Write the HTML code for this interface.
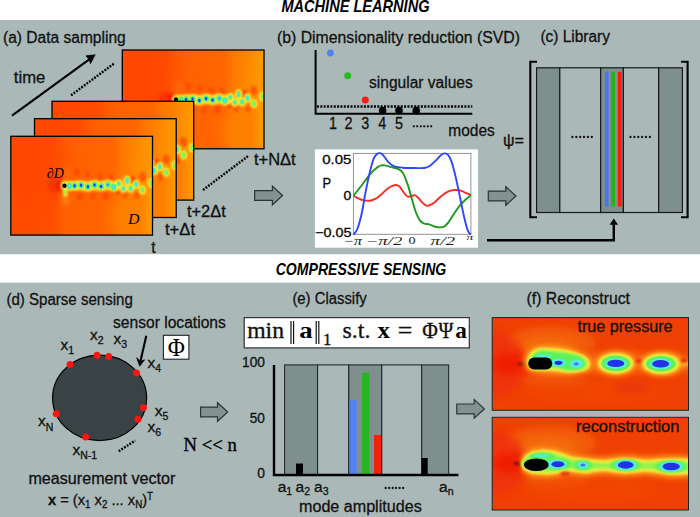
<!DOCTYPE html>
<html><head><meta charset="utf-8"><title>Figure</title>
<style>html,body{margin:0;padding:0;background:#fff;}svg{display:block;}</style></head>
<body><svg width="700" height="517" viewBox="0 0 700 517">
<defs>
<filter id="b1" x="-30%" y="-30%" width="160%" height="160%"><feGaussianBlur stdDeviation="1"/></filter>
<filter id="b2" x="-30%" y="-30%" width="160%" height="160%"><feGaussianBlur stdDeviation="2"/></filter>
<filter id="b3" x="-30%" y="-30%" width="160%" height="160%"><feGaussianBlur stdDeviation="3.5"/></filter>
<filter id="b6" x="-50%" y="-50%" width="200%" height="200%"><feGaussianBlur stdDeviation="7"/></filter>
<filter id="w1" filterUnits="userSpaceOnUse" x="-10" y="-10" width="220" height="120"><feGaussianBlur stdDeviation="1"/></filter>
<filter id="w05" filterUnits="userSpaceOnUse" x="-10" y="-10" width="220" height="120"><feGaussianBlur stdDeviation="0.6"/></filter>
<filter id="w2" filterUnits="userSpaceOnUse" x="-10" y="-10" width="220" height="120"><feGaussianBlur stdDeviation="2"/></filter>
<filter id="w3" filterUnits="userSpaceOnUse" x="-10" y="-10" width="220" height="120"><feGaussianBlur stdDeviation="3.5"/></filter>
<filter id="w03" filterUnits="userSpaceOnUse" x="-10" y="-10" width="220" height="120"><feGaussianBlur stdDeviation="0.35"/></filter>
<filter id="b05" x="-30%" y="-30%" width="160%" height="160%"><feGaussianBlur stdDeviation="0.6"/></filter>
<linearGradient id="og" x1="0" x2="1" y1="0" y2="0">
<stop offset="0" stop-color="#ff4a00"/><stop offset="0.29" stop-color="#ff4e00"/><stop offset="0.38" stop-color="#ff6000"/><stop offset="0.72" stop-color="#ff6600"/><stop offset="0.79" stop-color="#ff7a00"/><stop offset="0.91" stop-color="#ff8000"/><stop offset="0.97" stop-color="#ff9400"/><stop offset="1" stop-color="#ff9a00"/>
</linearGradient>
<clipPath id="cf"><rect x="0" y="0" width="141.7" height="98.8"/></clipPath>
<g id="flow">
  <g clip-path="url(#cf)">
  <rect x="0" y="0" width="141.7" height="98.8" fill="url(#og)"/>
  <ellipse cx="20" cy="30" rx="38" ry="50" fill="#ff4a00" filter="url(#b6)" opacity="0.6"/>
  <ellipse cx="134" cy="25" rx="10" ry="32" fill="#ff9600" filter="url(#b6)" opacity="0.8"/>
  <ellipse cx="112" cy="82" rx="14" ry="20" fill="#ff8400" filter="url(#b6)" opacity="0.7"/>
  <ellipse cx="44.5" cy="48.8" rx="8" ry="7.5" fill="#f83004" filter="url(#b2)" opacity="0.9"/>
  <ellipse cx="48.6" cy="49.3" rx="3" ry="4.2" fill="#fa1804" filter="url(#b1)"/>
  <ellipse cx="54.5" cy="63" rx="4.4" ry="7" fill="#ff8e14" filter="url(#b2)" opacity="0.6"/>
  <ellipse cx="54.5" cy="57" rx="2.5" ry="3.6" fill="#ffd82c" filter="url(#b1)"/>
  <ellipse cx="54.6" cy="55" rx="1.8" ry="2.8" fill="#9cf250" filter="url(#b05)"/>
  <ellipse cx="56" cy="37" rx="4" ry="6" fill="#fd8a20" filter="url(#b3)" opacity="0.5"/>
  <ellipse cx="107.1" cy="54.2" rx="2.6" ry="3.6" fill="#fa3a04" filter="url(#b1)" opacity="0.98"/>
  <ellipse cx="122.1" cy="43.6" rx="2.8" ry="3.9" fill="#fa3a04" filter="url(#b1)" opacity="0.88"/>
  <ellipse cx="131.7" cy="40.5" rx="3.4" ry="4.8" fill="#fa3a04" filter="url(#b1)" opacity="0.63"/>
  <ellipse cx="126" cy="59" rx="2.6" ry="3.6" fill="#fa3a04" filter="url(#b1)" opacity="0.58"/>
  <ellipse cx="66" cy="36" rx="2.6" ry="3.6" fill="#fa3a04" filter="url(#b1)" opacity="0.53"/>
  <ellipse cx="77" cy="38" rx="2.6" ry="3.6" fill="#fa3a04" filter="url(#b1)" opacity="0.53"/>
  <ellipse cx="89" cy="40" rx="2.6" ry="3.6" fill="#fa3a04" filter="url(#b1)" opacity="0.53"/>
  <ellipse cx="69" cy="60.5" rx="2.8" ry="3.9" fill="#fa3a04" filter="url(#b1)" opacity="0.58"/>
  <ellipse cx="82" cy="60" rx="2.6" ry="3.6" fill="#fa3a04" filter="url(#b1)" opacity="0.53"/>
  <ellipse cx="95" cy="60" rx="2.8" ry="3.9" fill="#fa3a04" filter="url(#b1)" opacity="0.58"/>
  <ellipse cx="100" cy="41" rx="2.4" ry="3.4" fill="#fa3a04" filter="url(#b1)" opacity="0.53"/>
  <ellipse cx="114" cy="59" rx="2.4" ry="3.4" fill="#fa3a04" filter="url(#b1)" opacity="0.58"/>
  <polyline points="54.5,49.5 58.5,49.7 63.8,49.4 70.3,49.0 77.1,50.4 83.8,48.6 90.3,50.1 97.1,48.4 102.8,50.6 106.0,49.5" fill="none" stroke="#ffe234" stroke-width="10" stroke-linecap="round" stroke-linejoin="round" filter="url(#w1)"/>
  <g fill="#ffe234" filter="url(#b1)"><ellipse cx="108.1" cy="47.3" rx="3.8" ry="4.4"/><ellipse cx="112.5" cy="52.3" rx="3.8" ry="4.4"/><ellipse cx="116.3" cy="44.2" rx="3.8" ry="5.2"/><ellipse cx="119.9" cy="52.0" rx="3.9" ry="4.6"/><ellipse cx="125.2" cy="48.0" rx="3.8" ry="4.8"/><ellipse cx="131.6" cy="53.7" rx="3.8" ry="4.8"/><ellipse cx="140.6" cy="46.6" rx="4.0" ry="5.0"/></g>
  <polyline points="54.5,49.5 58.5,49.7 63.8,49.4 70.3,49.0 77.1,50.4 83.8,48.6 90.3,50.1 97.1,48.4 102.8,50.6 106.0,49.5" fill="none" stroke="#d2f242" stroke-width="4.2" stroke-linecap="round" stroke-linejoin="round" filter="url(#w05)"/>
  <g fill="#70f24c" filter="url(#w05)"><ellipse cx="58.5" cy="49.7" rx="2.9" ry="3.4"/><ellipse cx="63.8" cy="49.4" rx="2.9" ry="3.4"/><ellipse cx="70.3" cy="49.0" rx="2.9" ry="3.4"/><ellipse cx="77.1" cy="50.4" rx="2.9" ry="3.4"/><ellipse cx="83.8" cy="48.6" rx="2.9" ry="3.4"/><ellipse cx="90.3" cy="50.1" rx="2.9" ry="3.4"/><ellipse cx="97.1" cy="48.4" rx="2.9" ry="3.4"/><ellipse cx="102.8" cy="50.6" rx="2.9" ry="3.4"/></g>
  <g fill="#84f258" filter="url(#b05)"><ellipse cx="108.1" cy="47.3" rx="2.1" ry="2.7"/><ellipse cx="112.5" cy="52.3" rx="2.1" ry="2.7"/><ellipse cx="116.3" cy="44.2" rx="2.1" ry="3.5"/><ellipse cx="119.9" cy="52.0" rx="2.2" ry="2.9"/><ellipse cx="125.2" cy="48.0" rx="2.1" ry="3.1"/><ellipse cx="131.6" cy="53.7" rx="2.1" ry="3.1"/><ellipse cx="140.6" cy="46.6" rx="2.3" ry="3.3"/></g>
  <g fill="#44e8d4" filter="url(#w03)"><ellipse cx="58.5" cy="49.7" rx="2.0" ry="2.5"/><ellipse cx="63.8" cy="49.4" rx="2.0" ry="2.5"/><ellipse cx="70.3" cy="49.0" rx="2.0" ry="2.5"/><ellipse cx="77.1" cy="50.4" rx="2.0" ry="2.5"/><ellipse cx="83.8" cy="48.6" rx="2.0" ry="2.5"/><ellipse cx="90.3" cy="50.1" rx="2.0" ry="2.5"/><ellipse cx="97.1" cy="48.4" rx="2.0" ry="2.5"/><ellipse cx="102.8" cy="50.6" rx="2.0" ry="2.5"/><ellipse cx="108.1" cy="47.3" rx="1.5" ry="1.9"/><ellipse cx="112.5" cy="52.3" rx="1.5" ry="1.9"/><ellipse cx="116.3" cy="44.2" rx="1.5" ry="2.7"/><ellipse cx="119.9" cy="52.0" rx="1.5999999999999999" ry="2.1"/><ellipse cx="125.2" cy="48.0" rx="1.5" ry="2.3"/></g>
  <g fill="#1c3cf0" filter="url(#w03)"><ellipse cx="63.8" cy="49.4" rx="1.2" ry="1.7"/><ellipse cx="70.3" cy="49.0" rx="1.2" ry="1.7"/><ellipse cx="77.1" cy="50.4" rx="1.2" ry="1.7"/><ellipse cx="83.8" cy="48.6" rx="1.2" ry="1.7"/><ellipse cx="90.3" cy="50.1" rx="1.2" ry="1.7"/><circle cx="97.1" cy="48.4" r="1" fill="#3a80f0"/></g>
  <circle cx="53.6" cy="49.4" r="2.2" fill="#000"/>
  </g>
  <rect x="0" y="0" width="141.7" height="98.8" fill="none" stroke="#000" stroke-width="1.3"/>
</g>

</defs>
<rect x="0" y="0" width="700" height="517" fill="#fff"/>
<rect x="0" y="20" width="700" height="234.2" fill="#aab9b8"/>
<rect x="0" y="282.6" width="700" height="234.4" fill="#aab9b8"/>
<text x="281.4" y="12.1" font-family='"Liberation Sans", sans-serif' font-size="16" font-weight="bold" font-style="italic" fill="#000" textLength="148.1" lengthAdjust="spacingAndGlyphs">MACHINE LEARNING</text>
<text x="275.7" y="275.0" font-family='"Liberation Sans", sans-serif' font-size="16.5" font-weight="bold" font-style="italic" fill="#000" textLength="170.6" lengthAdjust="spacingAndGlyphs">COMPRESSIVE SENSING</text>
<text x="3.0" y="42.7" font-family='"Liberation Sans", sans-serif' font-size="16" font-weight="normal" font-style="normal" fill="#111" stroke="#111" stroke-width="0.3" textLength="122.7" lengthAdjust="spacingAndGlyphs">(a) Data sampling</text>
<text x="13.8" y="82.5" font-family='"Liberation Sans", sans-serif' font-size="16" font-weight="normal" font-style="normal" fill="#111" stroke="#111" stroke-width="0.3" textLength="31.5" lengthAdjust="spacingAndGlyphs">time</text>
<path d="M12,115.7 L91,58.2" stroke="#000" stroke-width="2.1" fill="none"/>
<path d="M95.2,54.8 L86.0,55.8 L89.0,59.4 L90.5,63.6 Z" fill="#000" stroke="#000" stroke-width="0.7" stroke-linejoin="miter"/>
<path d="M71,95.3 L114.8,63" stroke="#000" stroke-width="2.4" stroke-dasharray="1.9,1.3" fill="none"/>
<path d="M203,190 L248.6,155.7" stroke="#000" stroke-width="2.4" stroke-dasharray="1.9,1.3" fill="none"/>
<use href="#flow" x="122.3" y="50"/>
<use href="#flow" x="52" y="101.3"/>
<use href="#flow" x="34.5" y="118.7"/>
<use href="#flow" x="10.8" y="136.3"/>
<text x="46.8" y="177.6" font-family='"Liberation Serif", serif' font-size="14.5" font-weight="normal" font-style="italic" fill="#000" textLength="17.0" lengthAdjust="spacingAndGlyphs">∂D</text>
<text x="128.0" y="224.0" font-family='"Liberation Serif", serif' font-size="14" font-weight="normal" font-style="italic" fill="#000" textLength="11.5" lengthAdjust="spacingAndGlyphs">D</text>
<text x="151.2" y="252.5" font-family='"Liberation Sans", sans-serif' font-size="16" font-weight="normal" font-style="normal" fill="#111" stroke="#111" stroke-width="0.3" textLength="4.3" lengthAdjust="spacingAndGlyphs">t</text>
<text x="165.0" y="234.6" font-family='"Liberation Sans", sans-serif' font-size="16" font-weight="normal" font-style="normal" fill="#111" stroke="#111" stroke-width="0.3" textLength="30.0" lengthAdjust="spacingAndGlyphs">t+Δt</text>
<text x="187.0" y="216.9" font-family='"Liberation Sans", sans-serif' font-size="16" font-weight="normal" font-style="normal" fill="#111" stroke="#111" stroke-width="0.3" textLength="38.7" lengthAdjust="spacingAndGlyphs">t+2Δt</text>
<text x="254.0" y="164.7" font-family='"Liberation Sans", sans-serif' font-size="16" font-weight="normal" font-style="normal" fill="#111" stroke="#111" stroke-width="0.3" textLength="41.7" lengthAdjust="spacingAndGlyphs">t+NΔt</text>
<path d="M254.6,190.6 L272.4,190.6 L272.4,186.2 L282.6,195.5 L272.4,204.8 L272.4,200.4 L254.6,200.4 Z" fill="#839191" stroke="#2c3434" stroke-width="1.2" stroke-linejoin="miter"/>
<text x="277.0" y="42.6" font-family='"Liberation Sans", sans-serif' font-size="16" font-weight="normal" font-style="normal" fill="#111" stroke="#111" stroke-width="0.3" textLength="243.0" lengthAdjust="spacingAndGlyphs">(b) Dimensionality reduction (SVD)</text>
<path d="M315.6,50 L315.6,113.7 L472.3,113.7" stroke="#000" stroke-width="2" fill="none"/>
<path d="M317,106.5 L472.3,106.5" stroke="#000" stroke-width="2.3" stroke-dasharray="2,1.35" fill="none"/>
<circle cx="330.4" cy="53" r="3.4" fill="#4f83f5"/>
<circle cx="347.7" cy="75.7" r="3.5" fill="#24bc22"/>
<circle cx="365.3" cy="99.9" r="3.5" fill="#fa1e18"/>
<circle cx="382.6" cy="110.6" r="3.8" fill="#000"/>
<circle cx="399" cy="110.6" r="3.8" fill="#000"/>
<circle cx="416.2" cy="110.6" r="3.8" fill="#000"/>
<text x="329.0" y="128.8" font-family='"Liberation Sans", sans-serif' font-size="16.5" font-weight="normal" font-style="normal" fill="#111" stroke="#111" stroke-width="0.3" textLength="8.0" lengthAdjust="spacingAndGlyphs">1</text>
<text x="344.6" y="128.8" font-family='"Liberation Sans", sans-serif' font-size="16.5" font-weight="normal" font-style="normal" fill="#111" stroke="#111" stroke-width="0.3" textLength="8.0" lengthAdjust="spacingAndGlyphs">2</text>
<text x="361.3" y="128.8" font-family='"Liberation Sans", sans-serif' font-size="16.5" font-weight="normal" font-style="normal" fill="#111" stroke="#111" stroke-width="0.3" textLength="8.0" lengthAdjust="spacingAndGlyphs">3</text>
<text x="378.3" y="128.8" font-family='"Liberation Sans", sans-serif' font-size="16.5" font-weight="normal" font-style="normal" fill="#111" stroke="#111" stroke-width="0.3" textLength="8.0" lengthAdjust="spacingAndGlyphs">4</text>
<text x="395.0" y="128.8" font-family='"Liberation Sans", sans-serif' font-size="16.5" font-weight="normal" font-style="normal" fill="#111" stroke="#111" stroke-width="0.3" textLength="8.0" lengthAdjust="spacingAndGlyphs">5</text>
<circle cx="413.8" cy="126.3" r="1.15" fill="#111"/>
<circle cx="417.2" cy="126.3" r="1.15" fill="#111"/>
<circle cx="420.8" cy="126.3" r="1.15" fill="#111"/>
<circle cx="424.2" cy="126.3" r="1.15" fill="#111"/>
<circle cx="427.8" cy="126.3" r="1.15" fill="#111"/>
<circle cx="431.2" cy="126.3" r="1.15" fill="#111"/>
<text x="369.0" y="88.2" font-family='"Liberation Sans", sans-serif' font-size="16" font-weight="normal" font-style="normal" fill="#111" stroke="#111" stroke-width="0.3" textLength="103.8" lengthAdjust="spacingAndGlyphs">singular values</text>
<text x="448.3" y="135.7" font-family='"Liberation Sans", sans-serif' font-size="16" font-weight="normal" font-style="normal" fill="#111" stroke="#111" stroke-width="0.3" textLength="46.5" lengthAdjust="spacingAndGlyphs">modes</text>
<rect x="314.9" y="149.4" width="163.1" height="98.3" fill="#fff"/>
<rect x="353.4" y="153.4" width="117.5" height="80.9" fill="none" stroke="#888" stroke-width="0.9"/>
<path d="M353.4,195.7 C354.0,196.1 355.6,197.0 357.1,197.8 C358.7,198.5 360.7,199.6 362.9,200.1 C365.0,200.6 367.9,200.9 370.0,200.7 C372.1,200.5 373.8,199.7 375.7,198.6 C377.6,197.6 379.5,195.9 381.4,194.3 C383.3,192.7 385.2,190.6 387.1,189.1 C389.0,187.7 391.2,186.4 392.9,185.7 C394.5,185.0 396.0,184.9 397.1,185.1 C398.3,185.4 399.0,186.0 400.0,187.1 C401.0,188.3 402.2,190.5 403.4,192.0 C404.6,193.5 405.9,195.5 407.1,196.3 C408.4,197.1 409.7,196.8 410.9,196.6 C412.0,196.4 413.1,195.0 414.3,195.1 C415.4,195.2 416.5,196.1 417.7,197.2 C418.9,198.2 420.1,200.2 421.4,201.6 C422.8,202.9 424.4,204.8 425.7,205.4 C427.0,206.0 427.7,205.9 429.1,205.4 C430.6,204.9 432.5,203.8 434.3,202.5 C436.1,201.1 438.1,198.8 440.0,197.2 C441.9,195.6 443.8,194.0 445.7,192.9 C447.6,191.7 449.6,190.8 451.4,190.3 C453.2,189.8 454.9,189.9 456.6,190.0 C458.2,190.1 459.9,190.4 461.4,190.9 C463.0,191.3 464.1,192.1 465.7,192.9 C467.3,193.6 470.0,194.8 470.9,195.1" stroke="#f82a22" stroke-width="1.9" fill="none"/>
<path d="M353.4,195.7 C354.8,194.0 358.7,189.3 361.4,185.7 C364.2,182.1 367.4,177.3 370.0,174.3 C372.6,171.2 375.0,169.0 377.1,167.4 C379.3,165.9 380.5,165.2 382.9,165.1 C385.2,165.1 388.8,166.5 391.4,167.1 C394.0,167.8 396.7,168.2 398.6,169.1 C400.5,170.1 401.4,170.6 402.9,172.9 C404.3,175.1 405.7,178.8 407.1,182.9 C408.6,186.9 410.0,192.3 411.4,197.2 C412.9,202.0 414.3,207.9 415.7,211.8 C417.1,215.8 418.6,218.7 420.0,220.6 C421.4,222.6 422.9,223.0 424.3,223.6 C425.7,224.2 426.9,223.7 428.6,224.2 C430.2,224.7 432.4,226.0 434.3,226.5 C436.2,227.1 438.3,227.4 440.0,227.4 C441.7,227.4 442.9,227.4 444.3,226.5 C445.7,225.6 446.9,224.3 448.6,222.1 C450.2,219.9 452.4,216.1 454.3,213.3 C456.2,210.5 458.1,207.7 460.0,205.4 C461.9,203.1 463.9,201.2 465.7,199.5 C467.5,197.8 470.0,195.9 470.9,195.1" stroke="#1e981e" stroke-width="1.9" fill="none"/>
<path d="M353.4,234.7 C354.0,233.9 355.8,232.8 357.1,229.5 C358.5,226.1 360.0,221.1 361.4,214.8 C362.9,208.4 364.3,198.7 365.7,191.4 C367.1,184.2 368.7,176.9 370.0,171.4 C371.3,166.0 372.5,161.5 373.7,158.6 C374.9,155.6 376.0,154.6 377.1,153.7 C378.3,152.9 379.7,153.0 380.9,153.4 C382.0,153.9 383.0,155.1 384.3,156.6 C385.6,158.0 386.9,160.7 388.6,162.3 C390.2,163.9 391.9,165.4 394.3,166.3 C396.7,167.2 399.5,167.4 402.9,167.7 C406.2,168.0 410.7,168.0 414.3,168.0 C417.9,168.0 421.7,168.4 424.3,168.0 C426.9,167.6 428.1,167.0 430.0,165.7 C431.9,164.5 434.0,162.3 435.7,160.6 C437.5,158.9 439.1,156.6 440.6,155.4 C442.0,154.2 443.0,153.5 444.3,153.4 C445.5,153.3 446.8,153.5 448.0,154.9 C449.2,156.2 450.1,157.7 451.4,161.4 C452.7,165.1 454.3,171.2 455.7,177.1 C457.1,183.1 458.6,190.4 460.0,197.2 C461.4,203.9 463.0,212.1 464.3,217.7 C465.6,223.3 466.9,228.1 468.0,230.9 C469.1,233.8 470.4,234.1 470.9,234.7" stroke="#2c48f8" stroke-width="1.9" fill="none"/>
<text x="322.3" y="163.6" font-family='"Liberation Sans", sans-serif' font-size="12.5" font-weight="normal" font-style="normal" fill="#000" stroke="#111" stroke-width="0.3" textLength="29.1" lengthAdjust="spacingAndGlyphs">0.05</text>
<text x="343.6" y="199.8" font-family='"Liberation Sans", sans-serif' font-size="12.5" font-weight="normal" font-style="normal" fill="#000" stroke="#111" stroke-width="0.3" textLength="7.8" lengthAdjust="spacingAndGlyphs">0</text>
<text x="315.0" y="236.8" font-family='"Liberation Sans", sans-serif' font-size="12.5" font-weight="normal" font-style="normal" fill="#000" stroke="#111" stroke-width="0.3" textLength="36.4" lengthAdjust="spacingAndGlyphs">−0.05</text>
<text x="322.6" y="188.0" font-family='"Liberation Sans", sans-serif' font-size="15.5" font-weight="normal" font-style="normal" fill="#000" stroke="#111" stroke-width="0.3" textLength="8.6" lengthAdjust="spacingAndGlyphs">P</text>
<text x="343.4" y="244.5" font-family='"Liberation Serif", serif' font-size="12" font-weight="normal" font-style="italic" fill="#222" textLength="18.6" lengthAdjust="spacingAndGlyphs">−π</text>
<text x="365.7" y="244.5" font-family='"Liberation Serif", serif' font-size="12" font-weight="normal" font-style="italic" fill="#222" textLength="36.6" lengthAdjust="spacingAndGlyphs">−π/2</text>
<text x="408.6" y="243.5" font-family='"Liberation Serif", serif' font-size="11" font-weight="normal" font-style="normal" fill="#222" textLength="7.1" lengthAdjust="spacingAndGlyphs">0</text>
<text x="430.6" y="244.5" font-family='"Liberation Serif", serif' font-size="12" font-weight="normal" font-style="italic" fill="#222" textLength="24.4" lengthAdjust="spacingAndGlyphs">π/2</text>
<text x="466.6" y="240.0" font-family='"Liberation Serif", serif' font-size="9" font-weight="normal" font-style="italic" fill="#222" textLength="6.8" lengthAdjust="spacingAndGlyphs">π</text>
<path d="M488.3,191.1 L505.8,191.1 L505.8,186.7 L516.0,196.0 L505.8,205.3 L505.8,200.9 L488.3,200.9 Z" fill="#839191" stroke="#2c3434" stroke-width="1.2" stroke-linejoin="miter"/>
<path d="M487,240.3 L613.8,240.3 L613.8,224" stroke="#000" stroke-width="2.4" fill="none"/>
<path d="M609.6,224.8 L613.8,218.6 L618,224.8 Z" fill="#000"/>
<text x="540.4" y="42.3" font-family='"Liberation Sans", sans-serif' font-size="16" font-weight="normal" font-style="normal" fill="#111" stroke="#111" stroke-width="0.3" textLength="69.6" lengthAdjust="spacingAndGlyphs">(c) Library</text>
<text x="503.0" y="146.0" font-family='"Liberation Sans", sans-serif' font-size="16" font-weight="normal" font-style="normal" fill="#111" stroke="#111" stroke-width="0.3" textLength="21.0" lengthAdjust="spacingAndGlyphs">ψ=</text>
<path d="M537,61.8 L530.3,61.8 L530.3,217.3 L537,217.3" stroke="#000" stroke-width="2.1" fill="none"/>
<path d="M681,61.8 L687.6,61.8 L687.6,217.3 L681,217.3" stroke="#000" stroke-width="2.1" fill="none"/>
<rect x="536.6" y="67.8" width="23.2" height="144.7" fill="#7f8f8e" stroke="#161a1a" stroke-width="1.2"/>
<rect x="559.8" y="67.8" width="40.9" height="144.7" fill="#aab9b8" stroke="#161a1a" stroke-width="1.2"/>
<rect x="600.7" y="67.8" width="22.7" height="144.7" fill="#7f8f8e" stroke="#161a1a" stroke-width="1.2"/>
<rect x="623.4" y="67.8" width="35.3" height="144.7" fill="#aab9b8" stroke="#161a1a" stroke-width="1.2"/>
<rect x="658.7" y="67.8" width="23.7" height="144.7" fill="#7f8f8e" stroke="#161a1a" stroke-width="1.2"/>
<rect x="604.9000000000001" y="71.8" width="3.6" height="134.8" fill="#4674fb"/>
<rect x="611.4000000000001" y="71.8" width="3.6" height="134.8" fill="#20b414"/>
<rect x="617.9000000000001" y="71.8" width="3.6" height="134.8" fill="#fa1c0c"/>
<circle cx="572.4" cy="137.0" r="1.15" fill="#111"/>
<circle cx="576.3" cy="137.0" r="1.15" fill="#111"/>
<circle cx="580.2" cy="137.0" r="1.15" fill="#111"/>
<circle cx="584.0" cy="137.0" r="1.15" fill="#111"/>
<circle cx="587.9" cy="137.0" r="1.15" fill="#111"/>
<circle cx="591.8" cy="137.0" r="1.15" fill="#111"/>
<circle cx="630.5" cy="137.0" r="1.15" fill="#111"/>
<circle cx="634.4" cy="137.0" r="1.15" fill="#111"/>
<circle cx="638.3" cy="137.0" r="1.15" fill="#111"/>
<circle cx="642.1" cy="137.0" r="1.15" fill="#111"/>
<circle cx="646.0" cy="137.0" r="1.15" fill="#111"/>
<circle cx="649.9" cy="137.0" r="1.15" fill="#111"/>
<text x="6.4" y="304.5" font-family='"Liberation Sans", sans-serif' font-size="16" font-weight="normal" font-style="normal" fill="#111" stroke="#111" stroke-width="0.3" textLength="126.4" lengthAdjust="spacingAndGlyphs">(d) Sparse sensing</text>
<text x="113.0" y="327.8" font-family='"Liberation Sans", sans-serif' font-size="16" font-weight="normal" font-style="normal" fill="#111" stroke="#111" stroke-width="0.3" textLength="112.8" lengthAdjust="spacingAndGlyphs">sensor locations</text>
<path d="M146.3,335.8 L140.4,361.5" stroke="#000" stroke-width="2.1" fill="none"/>
<path d="M139.7,366.2 L136.7,357.7 L140.4,361.2 L144.6,359.8 Z" fill="#000" stroke="#000" stroke-width="0.7" stroke-linejoin="miter"/>
<rect x="163.4" y="335.3" width="25.5" height="23.9" fill="#fff" stroke="#222" stroke-width="1.1"/>
<text x="167.7" y="355.7" font-family='"Liberation Serif", serif' font-size="26" font-weight="normal" font-style="normal" fill="#000" textLength="17.1" lengthAdjust="spacingAndGlyphs">Φ</text>
<ellipse cx="99.6" cy="397.9" rx="47" ry="42.8" fill="#394244" stroke="#000" stroke-width="1.2"/>
<circle cx="70" cy="364.4" r="3.5" fill="#fb1410"/>
<circle cx="97" cy="355.2" r="3.5" fill="#fb1410"/>
<circle cx="108.6" cy="356.5" r="3.5" fill="#fb1410"/>
<circle cx="136.5" cy="373.0" r="3.5" fill="#fb1410"/>
<circle cx="143.4" cy="407.8" r="3.5" fill="#fb1410"/>
<circle cx="137.9" cy="419.3" r="3.5" fill="#fb1410"/>
<circle cx="85.7" cy="437.1" r="3.5" fill="#fb1410"/>
<circle cx="56.3" cy="413.8" r="3.5" fill="#fb1410"/>
<text x="60.5" y="350.0" font-family='"Liberation Sans", sans-serif' font-size="15.5" fill="#111" stroke="#111" stroke-width="0.3">x<tspan font-size="10.5" dy="4.4">1</tspan></text>
<text x="90.0" y="339.6" font-family='"Liberation Sans", sans-serif' font-size="15.5" fill="#111" stroke="#111" stroke-width="0.3">x<tspan font-size="10.5" dy="4.4">2</tspan></text>
<text x="113.6" y="343.7" font-family='"Liberation Sans", sans-serif' font-size="15.5" fill="#111" stroke="#111" stroke-width="0.3">x<tspan font-size="10.5" dy="4.4">3</tspan></text>
<text x="147.5" y="367.7" font-family='"Liberation Sans", sans-serif' font-size="15.5" fill="#111" stroke="#111" stroke-width="0.3">x<tspan font-size="10.5" dy="4.4">4</tspan></text>
<text x="154.8" y="415.5" font-family='"Liberation Sans", sans-serif' font-size="15.5" fill="#111" stroke="#111" stroke-width="0.3">x<tspan font-size="10.5" dy="4.4">5</tspan></text>
<text x="147.5" y="431.5" font-family='"Liberation Sans", sans-serif' font-size="15.5" fill="#111" stroke="#111" stroke-width="0.3">x<tspan font-size="10.5" dy="4.4">6</tspan></text>
<text x="72.4" y="454.5" font-family='"Liberation Sans", sans-serif' font-size="15.5" fill="#111" stroke="#111" stroke-width="0.3">x<tspan font-size="10.5" dy="4.4">N-1</tspan></text>
<text x="38.0" y="426.2" font-family='"Liberation Sans", sans-serif' font-size="15.5" fill="#111" stroke="#111" stroke-width="0.3">x<tspan font-size="10.5" dy="4.4">N</tspan></text>
<path d="M118.7,451.3 L135.2,440.6" stroke="#000" stroke-width="2.4" stroke-dasharray="1.9,1.3" fill="none"/>
<path d="M200.6,407.1 L217.5,407.1 L217.5,402.7 L227.7,412.0 L217.5,421.3 L217.5,416.9 L200.6,416.9 Z" fill="#839191" stroke="#2c3434" stroke-width="1.2" stroke-linejoin="miter"/>
<text x="183.6" y="451.2" font-family='"Liberation Serif", serif' font-size="19.5" font-weight="normal" font-style="normal" fill="#000" textLength="53.2" lengthAdjust="spacingAndGlyphs" stroke="#000" stroke-width="0.35">N &lt;&lt; n</text>
<text x="28.4" y="483.8" font-family='"Liberation Sans", sans-serif' font-size="15.6" font-weight="normal" font-style="normal" fill="#111" stroke="#111" stroke-width="0.3" textLength="147.0" lengthAdjust="spacingAndGlyphs">measurement vector</text>
<text x="47.9" y="505.4" font-family='"Liberation Sans", sans-serif' font-size="15" fill="#111" stroke="#111" stroke-width="0.3" textLength="105.2" lengthAdjust="spacingAndGlyphs"><tspan font-weight="bold">x</tspan> = (x<tspan font-size="10" dy="3">1</tspan><tspan dy="-3"> x</tspan><tspan font-size="10" dy="3">2</tspan><tspan dy="-3"> ... x</tspan><tspan font-size="10" dy="3">N</tspan><tspan dy="-3">)</tspan><tspan font-size="10" dy="-5">T</tspan></text>
<text x="292.4" y="303.9" font-family='"Liberation Sans", sans-serif' font-size="16" font-weight="normal" font-style="normal" fill="#111" stroke="#111" stroke-width="0.3" textLength="74.3" lengthAdjust="spacingAndGlyphs">(e) Classify</text>
<rect x="244.2" y="317.6" width="225.1" height="30.3" fill="#fff" stroke="#333" stroke-width="1.2"/>
<text x="247.2" y="338.1" font-family='"Liberation Serif", serif' font-size="23.5" font-weight="normal" font-style="normal" fill="#111" textLength="36.8" lengthAdjust="spacingAndGlyphs" stroke="#111" stroke-width="0.35">min</text>
<rect x="290.4" y="321" width="1.2" height="23" fill="#111"/>
<rect x="293.0" y="321" width="1.2" height="23" fill="#111"/>
<rect x="315.59999999999997" y="321" width="1.2" height="23" fill="#111"/>
<rect x="318.2" y="321" width="1.2" height="23" fill="#111"/>
<text x="299.2" y="338.1" font-family='"Liberation Serif", serif' font-size="22.5" font-weight="bold" font-style="normal" fill="#000" textLength="13.4" lengthAdjust="spacingAndGlyphs">a</text>
<text x="322.9" y="344.9" font-family='"Liberation Serif", serif' font-size="16" font-weight="normal" font-style="normal" fill="#111" textLength="8.4" lengthAdjust="spacingAndGlyphs" stroke="#111" stroke-width="0.35">1</text>
<text x="342.6" y="338.1" font-family='"Liberation Serif", serif' font-size="23.5" font-weight="normal" font-style="normal" fill="#111" textLength="27.8" lengthAdjust="spacingAndGlyphs" stroke="#111" stroke-width="0.35">s.t.</text>
<text x="377.6" y="338.1" font-family='"Liberation Serif", serif' font-size="22.5" font-weight="bold" font-style="normal" fill="#000" textLength="12.4" lengthAdjust="spacingAndGlyphs">x</text>
<text x="397.8" y="338.1" font-family='"Liberation Serif", serif' font-size="22.5" font-weight="normal" font-style="normal" fill="#111" textLength="14.6" lengthAdjust="spacingAndGlyphs" stroke="#111" stroke-width="0.35">=</text>
<text x="422.2" y="338.1" font-family='"Liberation Serif", serif' font-size="22.5" font-weight="normal" font-style="normal" fill="#111" textLength="15.6" lengthAdjust="spacingAndGlyphs" stroke="#111" stroke-width="0.35">Φ</text>
<text x="438.6" y="338.1" font-family='"Liberation Serif", serif' font-size="22.5" font-weight="normal" font-style="normal" fill="#111" textLength="14.8" lengthAdjust="spacingAndGlyphs" stroke="#111" stroke-width="0.35">Ψ</text>
<text x="455.2" y="338.1" font-family='"Liberation Serif", serif' font-size="22.5" font-weight="bold" font-style="normal" fill="#000" textLength="11.6" lengthAdjust="spacingAndGlyphs">a</text>
<rect x="284.6" y="364.9" width="33.0" height="110.1" fill="#7f8f8e" stroke="#1c2020" stroke-width="1"/>
<rect x="317.6" y="364.9" width="31.2" height="110.1" fill="#aab9b8" stroke="#1c2020" stroke-width="1"/>
<rect x="348.8" y="364.9" width="33.0" height="110.1" fill="#7f8f8e" stroke="#1c2020" stroke-width="1"/>
<rect x="381.8" y="364.9" width="39.9" height="110.1" fill="#aab9b8" stroke="#1c2020" stroke-width="1"/>
<rect x="421.7" y="364.9" width="27.0" height="110.1" fill="#7f8f8e" stroke="#1c2020" stroke-width="1"/>
<rect x="296" y="463.5" width="7.0" height="11.5" fill="#000"/>
<rect x="349.7" y="400.2" width="6.9" height="74.8" fill="#4f83f5"/>
<rect x="362" y="372.7" width="7.4" height="102.3" fill="#28b424"/>
<rect x="374" y="435" width="7.0" height="40.0" fill="#f6200f"/>
<rect x="421.7" y="458" width="6.0" height="17.0" fill="#000"/>
<path d="M274,364.9 L274,475 L458.4,475" stroke="#000" stroke-width="2.4" fill="none"/>
<text x="242.0" y="367.0" font-family='"Liberation Sans", sans-serif' font-size="14.5" font-weight="normal" font-style="normal" fill="#111" stroke="#111" stroke-width="0.3" textLength="22.9" lengthAdjust="spacingAndGlyphs">100</text>
<text x="249.7" y="423.0" font-family='"Liberation Sans", sans-serif' font-size="14.5" font-weight="normal" font-style="normal" fill="#111" stroke="#111" stroke-width="0.3" textLength="15.2" lengthAdjust="spacingAndGlyphs">50</text>
<text x="257.2" y="478.0" font-family='"Liberation Sans", sans-serif' font-size="14.5" font-weight="normal" font-style="normal" fill="#111" stroke="#111" stroke-width="0.3" textLength="7.7" lengthAdjust="spacingAndGlyphs">0</text>
<text x="277.7" y="491.5" font-family='"Liberation Sans", sans-serif' font-size="15.5" fill="#111" stroke="#111" stroke-width="0.3">a<tspan font-size="10.5" dy="3.500">1</tspan></text>
<text x="295.6" y="491.5" font-family='"Liberation Sans", sans-serif' font-size="15.5" fill="#111" stroke="#111" stroke-width="0.3">a<tspan font-size="10.5" dy="3.500">2</tspan></text>
<text x="314.0" y="491.5" font-family='"Liberation Sans", sans-serif' font-size="15.5" fill="#111" stroke="#111" stroke-width="0.3">a<tspan font-size="10.5" dy="3.500">3</tspan></text>
<text x="439.0" y="491.5" font-family='"Liberation Sans", sans-serif' font-size="15.5" fill="#111" stroke="#111" stroke-width="0.3">a<tspan font-size="10.5" dy="3.500">n</tspan></text>
<circle cx="385.7" cy="488.0" r="1.15" fill="#111"/>
<circle cx="389.2" cy="488.0" r="1.15" fill="#111"/>
<circle cx="392.7" cy="488.0" r="1.15" fill="#111"/>
<circle cx="396.1" cy="488.0" r="1.15" fill="#111"/>
<circle cx="399.6" cy="488.0" r="1.15" fill="#111"/>
<circle cx="403.1" cy="488.0" r="1.15" fill="#111"/>
<text x="299.0" y="512.3" font-family='"Liberation Sans", sans-serif' font-size="16" font-weight="normal" font-style="normal" fill="#111" stroke="#111" stroke-width="0.3" textLength="122.7" lengthAdjust="spacingAndGlyphs">mode amplitudes</text>
<path d="M456.8,404.0 L474.2,404.0 L474.2,399.6 L484.4,408.9 L474.2,418.2 L474.2,413.8 L456.8,413.8 Z" fill="#839191" stroke="#2c3434" stroke-width="1.2" stroke-linejoin="miter"/>
<text x="526.6" y="303.9" font-family='"Liberation Sans", sans-serif' font-size="16" font-weight="normal" font-style="normal" fill="#111" stroke="#111" stroke-width="0.3" textLength="103.4" lengthAdjust="spacingAndGlyphs">(f) Reconstruct</text>
<defs><clipPath id="cp"><rect x="0" y="0" width="196.3" height="92.7"/></clipPath>
<linearGradient id="pg" x1="0" x2="1" y1="0" y2="1"><stop offset="0" stop-color="#f4440c"/><stop offset="0.5" stop-color="#f4500e"/><stop offset="1" stop-color="#f14a0e"/></linearGradient>
</defs>
<g transform="translate(492.2,317.6)"><g clip-path="url(#cp)">
<rect x="0" y="0" width="196.3" height="92.7" fill="#f04003"/>
<ellipse cx="58" cy="26" rx="46" ry="17" fill="#f25e0a" filter="url(#w3)" opacity="0.9"/>
<ellipse cx="56" cy="30" rx="30" ry="10" fill="#f67410" filter="url(#w3)" opacity="0.65"/>
<ellipse cx="62" cy="63" rx="32" ry="8" fill="#f35a0a" filter="url(#w3)" opacity="0.7"/>
<ellipse cx="100" cy="74" rx="70" ry="12" fill="#f24c06" filter="url(#w3)" opacity="0.5"/>
<ellipse cx="2" cy="46" rx="32" ry="32" fill="#f03008" filter="url(#w3)" opacity="0.85"/>
<ellipse cx="18" cy="46" rx="18" ry="10" fill="#f01c06" filter="url(#w3)" opacity="0.95"/>
<ellipse cx="31.5" cy="46.3" rx="6.5" ry="1.8" fill="#5a1004" filter="url(#w1)" opacity="0.8"/>
<ellipse cx="140" cy="70.5" rx="18" ry="6.5" fill="#ea3808" filter="url(#w2)" opacity="0.8"/>
<path d="M30,45 C34,28 58,26 76,33 C90,37 100,37 110,35 C124,32 140,33 150,37 C164,33 182,33 196,39 L200,53 C182,58 164,58 150,54 C140,57 124,58 110,56 C100,55 90,55 76,57 C58,60 36,60 30,45 Z" fill="#fb7616" filter="url(#w3)" opacity="0.75"/>
<path d="M32.4,43.9 C32.6,41.8 32.6,38.5 34.4,36.0 C36.2,33.6 39.0,30.6 43.2,29.2 C47.5,27.9 54.4,27.7 59.8,27.9 C65.1,28.0 71.0,29.2 75.2,30.2 C79.5,31.1 81.9,32.2 85.4,33.6 C88.8,35.0 93.4,36.7 96.0,38.7 C98.5,40.8 100.4,43.6 100.6,46.0 C100.8,48.3 99.5,51.1 96.9,52.9 C94.4,54.6 88.9,55.6 85.3,56.2 C81.6,56.9 79.3,56.9 75.2,56.8 C71.2,56.8 65.3,56.3 60.8,55.9 C56.3,55.6 52.0,55.2 48.0,54.8 C44.1,54.4 39.7,54.4 37.3,53.4 C34.8,52.5 34.2,50.6 33.4,49.0 C32.6,47.4 32.2,46.1 32.4,43.9 Z" fill="#ffa024" filter="url(#w2)" opacity="0.9"/>
<ellipse cx="123.6" cy="45.8" rx="20.5" ry="12.3" fill="#ffa024" filter="url(#w2)" opacity="0.9"/>
<ellipse cx="169.4" cy="46.2" rx="21.5" ry="12.3" fill="#ffa024" filter="url(#w2)" opacity="0.9"/>
<path d="M35.1,43.9 C35.2,41.9 35.3,38.9 37.0,36.7 C38.7,34.5 41.5,31.8 45.4,30.8 C49.4,29.7 55.8,30.2 60.5,30.5 C65.2,30.7 69.8,31.5 73.5,32.2 C77.2,32.9 79.6,33.6 82.9,34.7 C86.2,35.9 90.8,37.3 93.3,39.1 C95.8,41.0 97.7,43.6 97.9,45.8 C98.1,47.9 96.8,50.6 94.3,52.1 C91.8,53.6 86.4,54.4 82.9,54.8 C79.5,55.3 77.1,55.0 73.5,54.8 C69.9,54.5 65.4,53.6 61.5,53.3 C57.6,53.1 53.9,53.4 50.2,53.2 C46.6,53.1 42.1,53.3 39.8,52.5 C37.4,51.7 36.9,50.0 36.1,48.5 C35.3,47.1 35.0,45.9 35.1,43.9 Z" fill="#ffe030" filter="url(#w1)"/>
<ellipse cx="123.6" cy="45.8" rx="17.8" ry="10.3" fill="#ffe030" filter="url(#w1)"/>
<ellipse cx="169" cy="46.2" rx="18.6" ry="10.3" fill="#ffe030" filter="url(#w1)"/>
<ellipse cx="194" cy="45.5" rx="8" ry="2.6" fill="#ffc22c" filter="url(#w2)"/>
<path d="M36.5,43.9 C36.6,42.0 36.7,39.1 38.3,37.0 C40.0,35.0 42.9,32.4 46.6,31.6 C50.4,30.7 56.5,31.6 60.8,31.8 C65.2,32.1 69.1,32.7 72.6,33.3 C76.1,33.9 78.4,34.3 81.7,35.3 C84.9,36.3 89.4,37.6 91.9,39.3 C94.4,41.1 96.3,43.6 96.5,45.7 C96.7,47.8 95.4,50.3 93.0,51.7 C90.5,53.1 85.1,53.8 81.7,54.1 C78.3,54.5 75.9,54.1 72.6,53.7 C69.3,53.3 65.4,52.2 61.8,52.0 C58.3,51.7 54.8,52.4 51.4,52.4 C47.9,52.4 43.4,52.7 41.1,52.0 C38.8,51.3 38.2,49.7 37.5,48.3 C36.7,46.9 36.4,45.8 36.5,43.9 Z" fill="#ccf244" filter="url(#w1)"/>
<ellipse cx="123.6" cy="45.8" rx="16.2" ry="9.0" fill="#ccf244" filter="url(#w1)"/>
<ellipse cx="168.8" cy="46.2" rx="16.8" ry="9.0" fill="#ccf244" filter="url(#w1)"/>
<path d="M39.3,43.8 C39.4,42.2 39.5,39.5 41.1,37.7 C42.7,35.9 45.5,33.7 48.9,33.1 C52.3,32.6 57.9,34.2 61.6,34.5 C65.2,34.9 67.9,35.1 70.8,35.4 C73.7,35.8 76.1,35.8 79.1,36.5 C82.2,37.2 86.7,38.3 89.1,39.8 C91.6,41.3 93.5,43.6 93.7,45.5 C93.9,47.4 92.7,49.8 90.3,51.0 C87.9,52.2 82.6,52.6 79.3,52.7 C76.1,52.8 73.6,52.1 70.8,51.6 C68.0,51.0 65.4,49.4 62.5,49.2 C59.7,49.1 56.8,50.5 53.7,50.8 C50.5,51.1 46.0,51.5 43.7,51.0 C41.5,50.5 41.0,49.0 40.2,47.8 C39.5,46.6 39.2,45.5 39.3,43.8 Z" fill="#5cf25c" filter="url(#w1)"/>
<ellipse cx="123.6" cy="45.8" rx="14.4" ry="7.8" fill="#5cf25c" filter="url(#w05)"/>
<ellipse cx="168.6" cy="46.2" rx="14.8" ry="7.8" fill="#5cf25c" filter="url(#w05)"/>
<ellipse cx="51" cy="38.6" rx="8.5" ry="1.8" fill="#54ecd8" filter="url(#w05)"/>
<ellipse cx="66.2" cy="45.2" rx="7.4" ry="4.2" fill="#54ecd8" filter="url(#w05)"/>
<ellipse cx="84.1" cy="46.2" rx="7.0" ry="4.2" fill="#54ecd8" filter="url(#w05)"/>
<ellipse cx="123.6" cy="45.8" rx="10.9" ry="5.5" fill="#54ecd8" filter="url(#w05)"/>
<ellipse cx="168.4" cy="46.2" rx="10.9" ry="5.5" fill="#54ecd8" filter="url(#w05)"/>
<ellipse cx="66.3" cy="45.2" rx="4" ry="2.1" fill="#2230e6" filter="url(#w05)"/>
<ellipse cx="84.1" cy="46.3" rx="2.6" ry="1.6" fill="#3a84f0" filter="url(#w05)"/>
<ellipse cx="123.6" cy="45.8" rx="8.5" ry="3.7" fill="#2230e6" filter="url(#w05)"/>
<ellipse cx="168.4" cy="46.2" rx="8.5" ry="3.7" fill="#2230e6" filter="url(#w05)"/>
<rect x="36" y="40" width="24" height="11.8" rx="5.9" ry="5.9" fill="#000"/>
<ellipse cx="146.3" cy="43.4" rx="2.6" ry="2.2" fill="#e6300c" filter="url(#w1)"/><ellipse cx="192" cy="42.8" rx="3.5" ry="2.2" fill="#e6300c" filter="url(#w1)"/>
</g><rect x="0" y="0" width="196.3" height="92.7" fill="none" stroke="#222" stroke-width="1"/></g>
<g transform="translate(492.2,417.3)"><g clip-path="url(#cp)">
<rect x="0" y="0" width="196.3" height="92.7" fill="#f04003"/>
<ellipse cx="58" cy="26" rx="46" ry="17" fill="#f25e0a" filter="url(#w3)" opacity="0.9"/>
<ellipse cx="56" cy="30" rx="30" ry="10" fill="#f67410" filter="url(#w3)" opacity="0.65"/>
<ellipse cx="62" cy="63" rx="32" ry="8" fill="#f35a0a" filter="url(#w3)" opacity="0.7"/>
<ellipse cx="100" cy="74" rx="70" ry="12" fill="#f24c06" filter="url(#w3)" opacity="0.5"/>
<ellipse cx="2" cy="46" rx="32" ry="32" fill="#f03008" filter="url(#w3)" opacity="0.85"/>
<ellipse cx="18" cy="46" rx="18" ry="10" fill="#f01c06" filter="url(#w3)" opacity="0.95"/>
<ellipse cx="27.5" cy="46.3" rx="6.5" ry="1.8" fill="#5a1004" filter="url(#w1)" opacity="0.8"/>

<path d="M29.0,40.5 L33.0,34.0 L40.0,30.0 L50.0,28.3 L62.0,29.5 L72.0,32.5 L80.0,35.5 L93.0,37.3 L103.0,38.5 L113.2,38.9 L123.0,37.5 L133.4,36.7 L144.0,37.5 L153.6,38.7 L164.0,37.9 L176.0,37.1 L188.0,37.3 L200.0,38.0 L200.0,60.5 L188.0,61.5 L176.7,61.5 L164.0,59.5 L153.6,58.3 L144.0,59.1 L133.4,60.1 L123.0,59.1 L113.2,57.7 L103.0,58.5 L93.0,60.1 L82.0,58.7 L72.8,57.9 L64.0,60.5 L55.5,61.5 L40.0,60.5 L31.0,56.5 Z" fill="#fb7616" filter="url(#w3)" opacity="0.75"/>
<path d="M29.0,42.4 L33.0,35.9 L40.0,31.9 L50.0,30.2 L62.0,31.4 L72.0,34.4 L80.0,37.4 L93.0,39.2 L103.0,40.4 L113.2,40.8 L123.0,39.4 L133.4,38.6 L144.0,39.4 L153.6,40.6 L164.0,39.8 L176.0,39.0 L188.0,39.2 L200.0,39.9 L200.0,58.6 L188.0,59.6 L176.7,59.6 L164.0,57.6 L153.6,56.4 L144.0,57.2 L133.4,58.2 L123.0,57.2 L113.2,55.8 L103.0,56.6 L93.0,58.2 L82.0,56.8 L72.8,56.0 L64.0,58.6 L55.5,59.6 L40.0,58.6 L31.0,54.6 Z" fill="#ffa024" filter="url(#w2)" opacity="0.9"/>
<path d="M29.0,44.5 L33.0,38.0 L40.0,34.0 L50.0,32.3 L62.0,33.5 L72.0,36.5 L80.0,39.5 L93.0,41.3 L103.0,42.5 L113.2,42.9 L123.0,41.5 L133.4,40.7 L144.0,41.5 L153.6,42.7 L164.0,41.9 L176.0,41.1 L188.0,41.3 L200.0,42.0 L200.0,56.5 L188.0,57.5 L176.7,57.5 L164.0,55.5 L153.6,54.3 L144.0,55.1 L133.4,56.1 L123.0,55.1 L113.2,53.7 L103.0,54.5 L93.0,56.1 L82.0,54.7 L72.8,53.9 L64.0,56.5 L55.5,57.5 L40.0,56.5 L31.0,52.5 Z" fill="#ffe030" filter="url(#w1)"/>
<path d="M29.0,46.1 L33.0,39.6 L40.0,35.6 L50.0,33.9 L62.0,35.1 L72.0,38.1 L80.0,41.1 L93.0,42.9 L103.0,44.1 L113.2,44.5 L123.0,43.1 L133.4,42.3 L144.0,43.1 L153.6,44.3 L164.0,43.5 L176.0,42.7 L188.0,42.9 L200.0,43.6 L200.0,54.9 L188.0,55.9 L176.7,55.9 L164.0,53.9 L153.6,52.7 L144.0,53.5 L133.4,54.5 L123.0,53.5 L113.2,52.1 L103.0,52.9 L93.0,54.5 L82.0,53.1 L72.8,52.3 L64.0,54.9 L55.5,55.9 L40.0,54.9 L31.0,50.9 Z" fill="#ccf244" filter="url(#w1)"/>
<path d="M29.0,48.2 L33.0,41.7 L40.0,37.7 L50.0,36.0 L62.0,37.2 L72.0,40.2 L80.0,43.2 L93.0,45.0 L103.0,46.2 L113.2,46.6 L123.0,45.2 L133.4,44.4 L144.0,45.2 L153.6,46.4 L164.0,45.6 L176.0,44.8 L188.0,45.0 L200.0,45.7 L200.0,52.8 L188.0,53.8 L176.7,53.8 L164.0,51.8 L153.6,50.6 L144.0,51.4 L133.4,52.4 L123.0,51.4 L113.2,50.0 L103.0,50.8 L93.0,52.4 L82.0,51.0 L72.8,50.2 L64.0,52.8 L55.5,53.8 L40.0,52.8 L31.0,48.8 Z" fill="#8ef24c" filter="url(#w1)"/>
<ellipse cx="50" cy="39.5" rx="13" ry="4.4" fill="#5cf25c" filter="url(#w1)"/>
<ellipse cx="65.6" cy="46.9" rx="13.5" ry="5.6" fill="#5cf25c" filter="url(#w1)"/>
<ellipse cx="90.7" cy="47.8" rx="9.5" ry="5.2" fill="#5cf25c" filter="url(#w1)"/>
<ellipse cx="133.4" cy="47.8" rx="15" ry="5.8" fill="#5cf25c" filter="url(#w1)"/>
<ellipse cx="179" cy="49.2" rx="15.5" ry="6.2" fill="#5cf25c" filter="url(#w1)"/>
<ellipse cx="50" cy="38.6" rx="8" ry="1.6" fill="#54ecd8" filter="url(#w05)"/>
<ellipse cx="64" cy="46.9" rx="10.5" ry="4.6" fill="#54ecd8" filter="url(#w05)"/>
<ellipse cx="90.7" cy="47.8" rx="5.4" ry="3.4" fill="#54ecd8" filter="url(#w05)"/>
<ellipse cx="133.4" cy="47.8" rx="11" ry="5" fill="#54ecd8" filter="url(#w05)"/>
<ellipse cx="179" cy="49.2" rx="11.6" ry="5.3" fill="#54ecd8" filter="url(#w05)"/>
<ellipse cx="65.7" cy="46.9" rx="6.4" ry="3" fill="#2230e6" filter="url(#w05)"/>
<ellipse cx="90.7" cy="47.8" rx="2.6" ry="1.5" fill="#3a78f0" filter="url(#w05)"/>
<ellipse cx="133.5" cy="47.7" rx="7.9" ry="3.7" fill="#2230e6" filter="url(#w05)"/>
<ellipse cx="179" cy="49.2" rx="8.6" ry="3.8" fill="#2230e6" filter="url(#w05)"/>
<ellipse cx="73" cy="56.4" rx="4.5" ry="2" fill="#e63a14" filter="url(#w1)"/>
<ellipse cx="44.1" cy="47.4" rx="12.3" ry="6.3" fill="#000"/>

</g><rect x="0" y="0" width="196.3" height="92.7" fill="none" stroke="#222" stroke-width="1"/></g>
<text x="577.5" y="331.8" font-family='"Liberation Sans", sans-serif' font-size="16" font-weight="normal" font-style="normal" fill="#111" stroke="#111" stroke-width="0.3" textLength="95.0" lengthAdjust="spacingAndGlyphs">true pressure</text>
<text x="576.0" y="431.6" font-family='"Liberation Sans", sans-serif' font-size="16" font-weight="normal" font-style="normal" fill="#111" stroke="#111" stroke-width="0.3" textLength="103.4" lengthAdjust="spacingAndGlyphs">reconstruction</text>
</svg></body></html>
